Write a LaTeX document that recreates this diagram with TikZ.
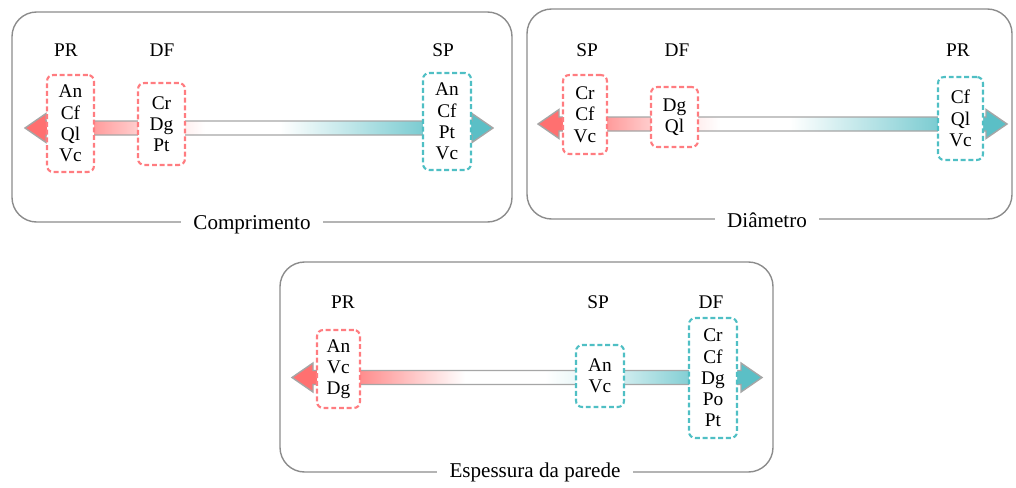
\documentclass[tikz,border=0pt]{standalone}
\usepackage{fontspec}
\setmainfont{Liberation Serif}
\usetikzlibrary{positioning}
\definecolor{prline}{HTML}{FF7C80}
\definecolor{spline}{HTML}{4FBFC4}
\definecolor{prfill}{HTML}{FF7070}
\definecolor{spfill}{HTML}{5BBFC6}
\definecolor{edge}{HTML}{A6A6A6}
\definecolor{frame}{HTML}{8C8C8C}

% red -> white -> teal fills of the three double arrows
\pgfdeclarehorizontalshading{lenshade}{100bp}{color(0bp)=(prfill); color(27.35bp)=(prfill);
  color(32.26bp)=(prfill!70); color(36.97bp)=(prfill!35); color(44.23bp)=(white);
  color(52.24bp)=(white); color(67.52bp)=(spfill!80); color(72.76bp)=(spfill); color(100bp)=(spfill)}
\pgfdeclarehorizontalshading{diashade}{100bp}{color(0bp)=(prfill); color(27.35bp)=(prfill);
  color(32.36bp)=(prfill!70); color(37.05bp)=(prfill!35); color(44.40bp)=(white);
  color(51.87bp)=(white); color(67.64bp)=(spfill!80); color(72.76bp)=(spfill); color(100bp)=(spfill)}
\pgfdeclarehorizontalshading{wallshade}{100bp}{color(0bp)=(prfill); color(27.34bp)=(prfill);
  color(32.23bp)=(prfill!80); color(43.40bp)=(white); color(51.91bp)=(white);
  color(55.21bp)=(spfill!12); color(60.32bp)=(spfill!30); color(67.23bp)=(spfill!75);
  color(72.66bp)=(spfill); color(100bp)=(spfill)}

\tikzset{
    panel/.style={draw=frame, line width=0.8pt, rounded corners=14pt},
    prbox/.style={draw=prline, fill=white, line width=1.2pt, dash pattern=on 2.8pt off 1.6pt,
        rounded corners=3.5pt, align=center, inner sep=1pt, font=\fontsize{11}{12.1}\selectfont},
    spbox/.style={prbox, draw=spline},
    tag/.style={font=\fontsize{11}{13}\selectfont},
    title/.style={fill=white, inner xsep=7pt, inner ysep=2pt, font=\fontsize{12}{14}\selectfont},
}
% #1 shading, #2 y, #3 left tip, #4 right tip
\newcommand{\dblarrow}[4]{
    \draw[edge, line width=0.8pt, shading=#1]
        (#3,#2) -- (#3+21,#2-14.5) -- (#3+21,#2-7) -- (#4-21,#2-7) -- (#4-21,#2-14.5)
        -- (#4,#2) -- (#4-21,#2+14.5) -- (#4-21,#2+7) -- (#3+21,#2+7) -- (#3+21,#2+14.5) -- cycle;
}

\begin{document}
\begin{tikzpicture}[x=0.02cm, y=-0.02cm]
\useasboundingbox (0,0) rectangle (1016,487);

% comprimento
\draw[panel] (12,12) rectangle (512,222);
\dblarrow{lenshade}{128}{25}{493}
\node[prbox, minimum width=0.94cm, minimum height=1.94cm] (lenpr) at (70.5,123.5) {An\\Cf\\Ql\\Vc};
\node[prbox, minimum width=0.94cm, minimum height=1.64cm] (lendf) at (161.5,124) {Cr\\Dg\\Pt};
\node[spbox, minimum width=0.96cm, minimum height=1.94cm] (lensp) at (447,121.5) {An\\Cf\\Pt\\Vc};
\node[tag] (lenprtag) at (66,50) {PR};
\node[tag] (lendftag) at (162,50) {DF};
\node[tag] (lensptag) at (443,50) {SP};
\node[title] (lentitle) at (252,225) {Comprimento};

% diametro
\draw[panel] (527,9) rectangle (1012,219);
\dblarrow{diashade}{124}{538}{1007}
\node[prbox, minimum width=0.88cm, minimum height=1.58cm] (diasp) at (585,114.5) {Cr\\Cf\\Vc};
\node[prbox, minimum width=0.94cm, minimum height=1.2cm] (diadf) at (674.5,117) {Dg\\Ql};
\node[spbox, minimum width=0.9cm, minimum height=1.66cm] (diapr) at (960.5,118.5) {Cf\\Ql\\Vc};
\node[tag] (diasptag) at (587,50) {SP};
\node[tag] (diadftag) at (677,50) {DF};
\node[tag] (diaprtag) at (958,50) {PR};
\node[title] (diatitle) at (767,220) {Diâmetro};

% espessura da parede
\draw[panel] (280,262) rectangle (773,472);
\dblarrow{wallshade}{377.5}{292}{762}
\node[prbox, minimum width=0.86cm, minimum height=1.56cm] (wallpr) at (338.5,369) {An\\Vc\\Dg};
\node[spbox, minimum width=0.96cm, minimum height=1.24cm] (wallsp) at (600,376) {An\\Vc};
\node[spbox, minimum width=0.96cm, minimum height=2.4cm] (walldf) at (713,378) {Cr\\Cf\\Dg\\Po\\Pt};
\node[tag] (wallprtag) at (343,302) {PR};
\node[tag] (wallsptag) at (598,302) {SP};
\node[tag] (walldftag) at (711,302) {DF};
\node[title] (walltitle) at (535,472) {Espessura da parede};
\end{tikzpicture}
\end{document}
